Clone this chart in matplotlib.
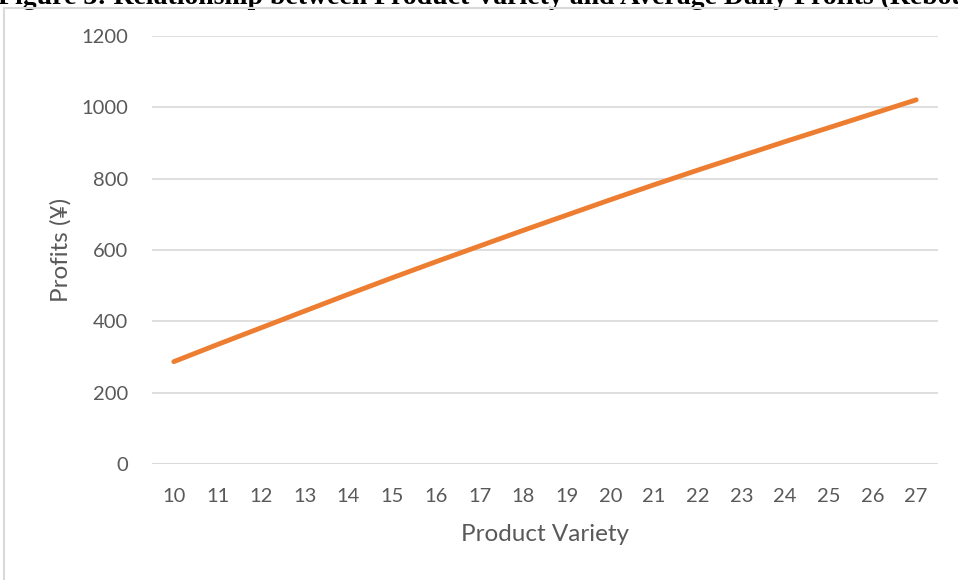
import matplotlib
matplotlib.use("Agg")
import matplotlib.pyplot as plt
from matplotlib.patches import Rectangle

# number of products vs average daily profit
variety = [10, 11, 12, 13, 14, 15, 16, 17, 18, 19, 20, 21, 22, 23, 24, 25, 26, 27]
profits = [287, 335, 382, 429, 476, 522, 567, 611, 655, 698, 741, 783, 824, 864, 904, 943, 982, 1021]
y_ticks = [0, 200, 400, 600, 800, 1000, 1200]

ORANGE = "#ED7D31"
GRID = "#D9D9D9"
TXT = "#595959"
FONT = "Lato"

fig = plt.figure(figsize=(9.58, 5.8), dpi=100)

# caption above the frame, only its lower part shows
fig.text(-0.002, 1 - 3.5 / 580,
         "Figure 3: Relationship between Product Variety and Average Daily Profits (Rebound",
         family="Liberation Serif", fontweight="bold", fontsize=20,
         ha="left", va="baseline", color="black")

# outer chart frame (runs off the right and bottom edges)
fig.patches.append(Rectangle((4 / 958, -0.2), 1.2, 1.2 - 8 / 580,
                             transform=fig.transFigure, fill=False,
                             ec="#D9D9D9", lw=1.5, zorder=5))

ax = fig.add_axes([152 / 958, 1 - 464 / 580, (938 - 152) / 958, (464 - 36) / 580])
xs = list(range(len(variety)))
ax.plot(xs, profits, color=ORANGE, lw=3.5, solid_capstyle="round", zorder=3)

ax.set_xlim(-0.5, len(variety) - 0.5)
ax.set_ylim(0, 1200)
ax.set_yticks(y_ticks)
ax.set_xticks(xs)
ax.set_xticklabels([str(v) for v in variety])
ax.grid(axis="y", color=GRID, lw=1.2)
ax.set_axisbelow(True)
for s in ax.spines.values():
    s.set_visible(False)
ax.axhline(0, color=GRID, lw=1.2, zorder=1)
ax.tick_params(length=0, labelsize=14.5, labelcolor=TXT)
ax.tick_params(axis="y", pad=17)
ax.tick_params(axis="x", pad=17)
for lab in ax.get_xticklabels() + ax.get_yticklabels():
    lab.set_family(FONT)

ax.set_xlabel("Product Variety", family=FONT, fontsize=17.5, color=TXT, labelpad=14)
ax.set_ylabel("Profits (¥)", family=FONT, fontsize=17.5, color=TXT, labelpad=7)

fig.savefig("out.png", dpi=100)
